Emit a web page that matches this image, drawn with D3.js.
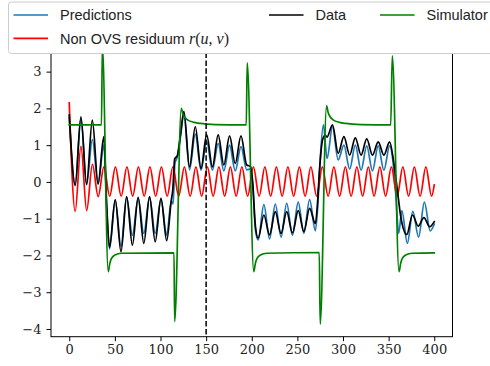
<!DOCTYPE html>
<html><head><meta charset="utf-8">
<script src="https://cdn.jsdelivr.net/npm/d3@7"></script>
<style>body{margin:0;background:#fff} svg{display:block}</style>
</head><body><svg id="c" width="490" height="366"></svg>
<script>
const xTicks = [0, 50, 100, 150, 200, 250, 300, 350, 400];
const yTicks = [-4, -3, -2, -1, 0, 1, 2, 3];
const markerT = 150;

const predictions = [[0,1.75],[6.5,-0.1],[12.8,1.72],[19.0,-0.08],[25.3,1.15],[31.6,-0.06],[37.9,1.0],[41,-0.7],[44.1,-1.82],[50.4,-0.5],[56.7,-1.75],[62.9,-0.42],[69.2,-1.45],[75.5,-0.45],[81.7,-1.4],[88.0,-0.42],[94.2,-1.4],[100.5,-0.48],[106.8,-1.45],[111.8,-0.52],[113.8,-0.6],[115.8,0.5],[118.5,0.68],[122,1.25],[125.6,1.85],[131.8,0.33],[138.1,1.3],[144.4,0.32],[150.6,1.1],[156.9,0.32],[163.2,1.05],[169.4,0.3],[175.7,1.0],[181.9,0.3],[188.2,0.96],[194.5,0.33],[198.6,0.35],[201.3,-0.2],[204,-1.3],[207.0,-1.58],[213.3,-0.62],[219.5,-1.55],[225.8,-0.6],[232.1,-1.5],[238.3,-0.58],[244.6,-1.45],[250.9,-0.55],[257.1,-1.4],[263.4,-0.48],[269.7,-1.33],[272.5,-0.6],[275,0.6],[278.5,1.55],[282.5,0.64],[288.5,1.5],[294.7,0.6],[301.0,1.0],[307.3,0.35],[313.5,1.0],[319.8,0.32],[326.0,0.98],[332.3,0.3],[338.6,0.98],[344.8,0.32],[351.1,0.98],[355,0.5],[358,-0.4],[361,-1.4],[364.5,-0.78],[370.5,-1.67],[376.5,-0.8],[382.8,-1.5],[389.2,-0.55],[395.5,-1.33],[400,-1.15]];

const residuum = [[0,2.15],[6.5,-0.8],[12.8,0.97],[19.1,-0.78],[25.4,0.48],[31.7,-0.4],[38.0,0.41],[44.3,-0.39],[50.6,0.41],[56.9,-0.39],[63.2,0.41],[69.5,-0.39],[75.8,0.41],[82.1,-0.39],[88.4,0.41],[94.7,-0.39],[101.0,0.41],[107.3,-0.39],[113.6,0.41],[119.9,-0.39],[126.2,0.41],[132.5,-0.39],[138.8,0.41],[145.1,-0.39],[151.4,0.41],[157.7,-0.39],[164.0,0.41],[170.3,-0.39],[176.6,0.41],[182.9,-0.39],[189.2,0.41],[195.5,-0.39],[201.8,0.41],[208.1,-0.39],[214.4,0.41],[220.7,-0.39],[227.0,0.41],[233.3,-0.39],[239.6,0.41],[245.9,-0.39],[252.2,0.41],[258.5,-0.39],[264.8,0.41],[271.1,-0.39],[277.4,0.41],[283.7,-0.39],[290.0,0.41],[296.3,-0.39],[302.6,0.41],[308.9,-0.39],[315.2,0.41],[321.5,-0.39],[327.8,0.41],[334.1,-0.39],[340.4,0.41],[346.7,-0.39],[353.0,0.41],[359.3,-0.39],[365.6,0.41],[371.9,-0.39],[378.2,0.41],[384.5,-0.39],[390.8,0.41],[397.1,-0.39],[400,-0.08]];

const data = [[0,1.82],[6.5,-0.08],[12.8,1.77],[19.0,-0.06],[25.3,1.68],[31.6,-0.05],[37.9,1.23],[41,-0.6],[44.1,-1.78],[50.4,-0.48],[56.7,-1.9],[62.9,-0.4],[69.2,-1.72],[75.5,-0.42],[81.7,-1.67],[88.0,-0.4],[94.2,-1.63],[100.5,-0.45],[106.8,-1.6],[111.8,-0.5],[113.5,-0.2],[115.5,0.62],[118.5,0.72],[122,1.3],[125.6,1.92],[131.8,0.41],[138.1,1.5],[144.4,0.37],[150.6,1.28],[156.9,0.41],[163.2,1.28],[169.4,0.46],[175.7,1.25],[181.9,0.5],[188.2,1.25],[194.5,0.46],[198.6,0.42],[201,0.0],[204,-1.2],[207.0,-1.53],[213.3,-0.9],[219.5,-1.44],[225.8,-0.81],[232.1,-1.4],[238.3,-0.81],[244.6,-1.39],[250.9,-0.78],[257.1,-1.35],[263.4,-0.72],[269.7,-1.13],[272,-0.6],[274,0.23],[277.6,1.14],[280.5,1.27],[282.5,1.22],[288.5,1.55],[294.7,0.78],[301.0,1.23],[307.3,0.73],[313.5,1.2],[319.8,0.73],[326.0,1.17],[332.3,0.73],[338.6,1.09],[344.8,0.73],[351.1,1.09],[355.5,0.55],[359.5,-0.2],[363,-0.9],[369.9,-1.43],[376.2,-0.9],[382.4,-1.2],[388.7,-0.97],[395.0,-1.22],[400,-1.08]];

const simulator = [[0,1.55],[35.3,1.55],[36.3,3.7],[42.7,-2.44],[44.5,-2.21],[46.3,-2.08],[50,-1.99],[57,-1.94],[114.8,-1.93],[115.5,-3.8],[122.8,2.0],[124.6,1.84],[126.5,1.76],[130,1.68],[137,1.62],[144,1.59],[160,1.56],[194,1.55],[195,3.24],[202.2,-2.44],[204,-2.21],[205.8,-2.08],[209.5,-1.99],[216.5,-1.94],[274,-1.92],[275,-3.87],[282,2.07],[283.8,1.88],[285.7,1.78],[289.2,1.69],[296.2,1.62],[303,1.59],[320,1.56],[352.3,1.55],[354,3.43],[361.4,-2.44],[363.2,-2.21],[365,-2.08],[368.7,-1.99],[375.7,-1.94],[400,-1.93]];

const legendLabels = ["Predictions", "Data", "Simulator", "Non OVS residuum "];
const colors = {pred: "#1f77b4", res: "#ff0000", data: "#000000", sim: "#008000"};

const svg = d3.select('#c');
const L = 51, R = 452.5, T = 36.7, B = 336.7;
const x = d3.scaleLinear().domain([-20, 420]).range([L, R]);
const y = d3.scaleLinear().domain([-4.21, 3.95]).range([B, T]);

svg.append('defs').append('clipPath').attr('id','clip')
  .append('rect').attr('x',L).attr('y',T).attr('width',R-L).attr('height',B-T);

const line = d3.line().x(d=>x(d[0])).y(d=>y(d[1])).curve(d3.curveMonotoneX);
const g = svg.append('g').attr('clip-path','url(#clip)');
[[predictions, colors.pred],[residuum, colors.res],[data, colors.data],[simulator, colors.sim]].forEach(([arr,c])=>{
  g.append('path').attr('d', line(arr)).attr('fill','none').attr('stroke',c)
    .attr('stroke-width',1.7).attr('stroke-linejoin','round').attr('stroke-linecap','square');
});
g.append('line').attr('x1',x(markerT)).attr('x2',x(markerT)).attr('y1',T).attr('y2',B)
  .attr('stroke','#000').attr('stroke-width',1.5).attr('stroke-dasharray','5.5,2.4');

// frame
svg.append('rect').attr('x',L).attr('y',T).attr('width',R-L).attr('height',B-T)
  .attr('fill','none').attr('stroke','#000').attr('stroke-width',1);

const fmt = d => d < 0 ? '\u2212' + Math.abs(d) : String(d);
const xa = svg.append('g').attr('transform',`translate(0,${B})`)
  .call(d3.axisBottom(x).tickValues(xTicks).tickSize(4.5).tickPadding(3.5).tickFormat(fmt));
const ya = svg.append('g').attr('transform',`translate(${L},0)`)
  .call(d3.axisLeft(y).tickValues(yTicks).tickSize(4.5).tickPadding(5).tickFormat(fmt));
[xa, ya].forEach(a=>{
  a.select('.domain').remove();
  a.selectAll('.tick line').attr('stroke','#000').attr('stroke-width',1);
  a.selectAll('.tick text').attr('fill','#222').style('font-family','"DejaVu Serif", serif').style('font-size','13px');
});

// legend
const lg = svg.append('g');
lg.append('rect').attr('x',8.5).attr('y',2).attr('width',495).attr('height',51.5).attr('rx',3)
  .attr('fill','#fff').attr('stroke','#cccccc').attr('stroke-width',1);
const items = [
  {label: legendLabels[0], color: colors.pred, x: 13.5, y: 15},
  {label: legendLabels[1], color: colors.data, x: 269, y: 15},
  {label: legendLabels[2], color: colors.sim, x: 380, y: 15},
  {label: legendLabels[3], color: colors.res, x: 13.5, y: 38.3, math: true}
];
items.forEach(it=>{
  lg.append('line').attr('x1',it.x).attr('x2',it.x+34.5).attr('y1',it.y).attr('y2',it.y)
    .attr('stroke',it.color).attr('stroke-width',1.7);
  const t = lg.append('text').attr('x',it.x+46.5).attr('y',it.y+5.3)
    .style('font-family','"Liberation Sans", Arial, sans-serif').style('font-size','14.5px').attr('fill','#222')
    .text(it.label);
  if (it.math) {
    const s = t.append('tspan').style('font-family','"Liberation Serif", serif').style('font-size','16px');
    s.append('tspan').style('font-style','italic').text('r');
    s.append('tspan').text('(');
    s.append('tspan').style('font-style','italic').text('u');
    s.append('tspan').text(', ');
    s.append('tspan').style('font-style','italic').text('v');
    s.append('tspan').text(')');
  }
});
</script>
</body></html>
